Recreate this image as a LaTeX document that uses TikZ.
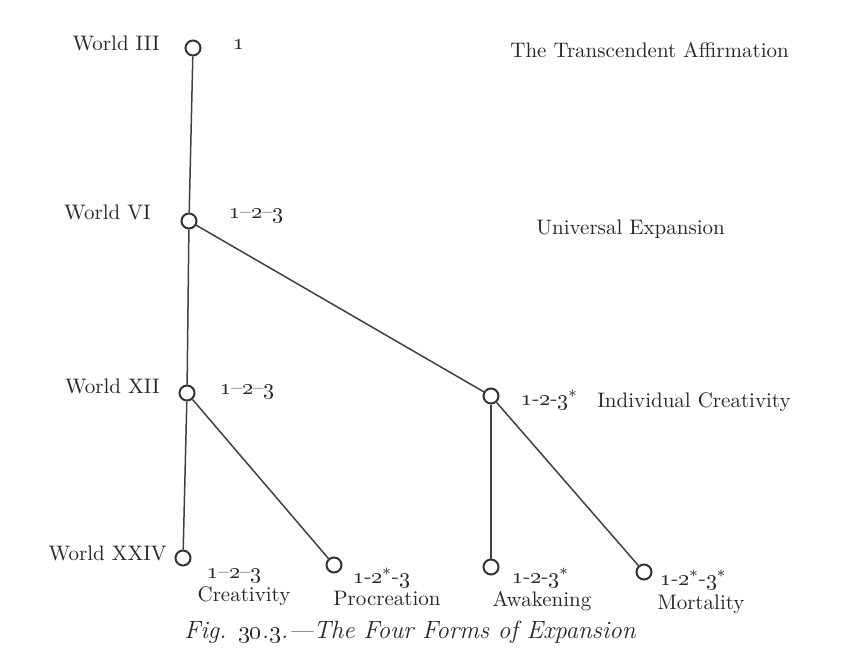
\documentclass[tikz,border=0pt]{standalone}
\begin{document}
\begin{tikzpicture}[x=0.5pt,y=-0.5pt,
  dot/.style={circle,draw=black!80,line width=1pt,minimum size=7.5pt,inner sep=0pt,fill=white},
  conn/.style={draw=black!75,line width=0.75pt},
  lbl/.style={text=black!85,inner sep=0pt,font=\fontsize{10.5}{12}\selectfont},
  num/.style={text=black!85,inner sep=0pt,font=\fontsize{11}{12}\selectfont}]
\useasboundingbox (0,0) rectangle (845,670);
% nodes
\node[dot] (iii) at (193,48) {};
\node[dot] (vi) at (189,221) {};
\node[dot] (xii) at (187,393) {};
\node[dot] (ic) at (491,396) {};
\node[dot] (xxiv) at (183,558) {};
\node[dot] (pro) at (334,565) {};
\node[dot] (awk) at (491,567) {};
\node[dot] (mor) at (644,572) {};
% connectors
\draw[conn] (iii) -- (vi);
\draw[conn] (vi) -- (xii);
\draw[conn] (xii) -- (xxiv);
\draw[conn] (vi) -- (ic);
\draw[conn] (xii) -- (pro);
\draw[conn] (ic) -- (awk);
\draw[conn] (ic) -- (mor);
% world labels
\node[lbl,anchor=east] (liii) at (160,43) {World III};
\node[lbl,anchor=east] (lvi) at (151,212) {World VI};
\node[lbl,anchor=east] (lxii) at (160,386) {World XII};
\node[lbl,anchor=east] (lxxiv) at (167,553) {World XXIV};
% numbers
\node[num,anchor=west] (niii) at (233,45) {\oldstylenums{1}};
\node[num,anchor=west] (nvi) at (229,216) {\oldstylenums{1}--\oldstylenums{2}--\oldstylenums{3}};
\node[num,anchor=west] (nxii) at (220,392) {\oldstylenums{1}--\oldstylenums{2}--\oldstylenums{3}};
\node[num,anchor=west] (nic) at (521,400) {\oldstylenums{1}-\oldstylenums{2}-\oldstylenums{3}$^{*}$};
\node[num,anchor=west] (nxxiv) at (207,576) {\oldstylenums{1}--\oldstylenums{2}--\oldstylenums{3}};
\node[num,anchor=west] (npro) at (353,578) {\oldstylenums{1}-\oldstylenums{2}$^{*}$-\oldstylenums{3}};
\node[num,anchor=west] (nawk) at (512,578) {\oldstylenums{1}-\oldstylenums{2}-\oldstylenums{3}$^{*}$};
\node[num,anchor=west] (nmor) at (660,580) {\oldstylenums{1}-\oldstylenums{2}$^{*}$-\oldstylenums{3}$^{*}$};
% descriptions
\node[lbl,anchor=west] (dtrans) at (510,50) {The Transcendent Affirmation};
\node[lbl,anchor=west] (duniv) at (536,229) {Universal Expansion};
\node[lbl,anchor=west] (dic) at (597,402) {Individual Creativity};
\node[lbl] (dcre) at (244,596) {Creativity};
\node[lbl] (dpro) at (387,598) {Procreation};
\node[lbl] (dawk) at (542,601) {Awakening};
\node[lbl] (dmor) at (701,604) {Mortality};
% caption
\node[text=black!85,inner sep=0pt,font=\fontsize{12.5}{14}\selectfont\itshape] (cap) at (410,632) {Fig. \oldstylenums{30}.\oldstylenums{3}.---The Four Forms of Expansion};
\end{tikzpicture}
\end{document}
